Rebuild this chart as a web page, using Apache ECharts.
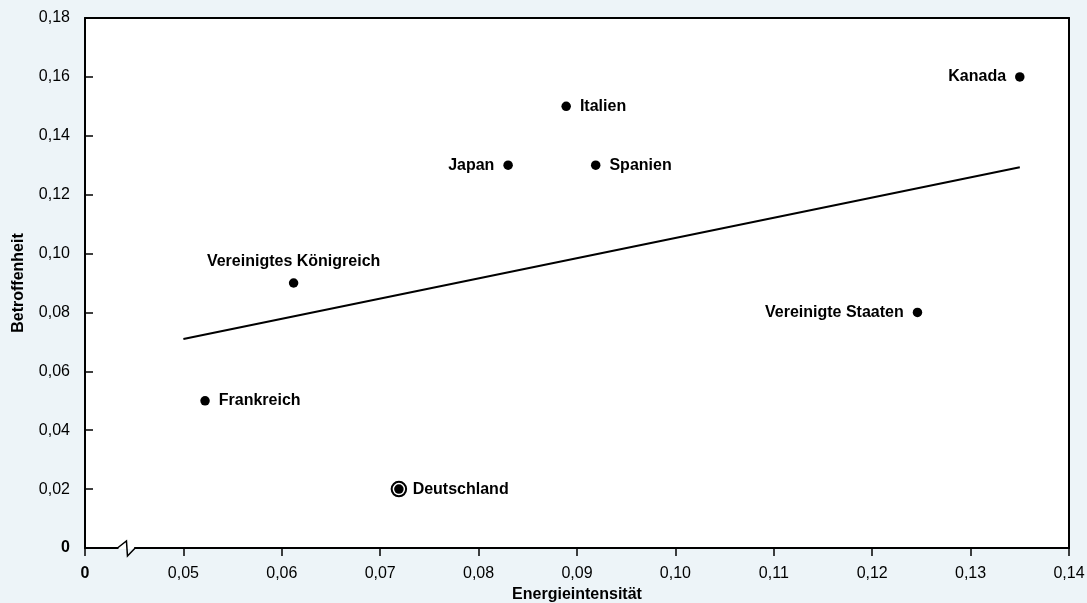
<!DOCTYPE html>
<html>
<head>
<meta charset="utf-8">
<script src="https://cdn.jsdelivr.net/npm/echarts@6/dist/echarts.min.js"></script>
<style>
html,body{margin:0;padding:0;background:#edf4f8;}
#c{width:1087px;height:603px;}
</style>
</head>
<body>
<div id="c"></div>
<script>
// ---- data ----
var countries = ['Kanada','Italien','Japan','Spanien','Vereinigtes Königreich','Vereinigte Staaten','Frankreich','Deutschland'];
var energyIntensity = [0.135, 0.0889, 0.0830, 0.0919, 0.0612, 0.1246, 0.0522, 0.0719];
var affectedness = [0.16, 0.15, 0.13, 0.13, 0.09, 0.08, 0.05, 0.02];
var labelSides = ['left','right','left','right','top','left','right','right'];
var highlighted = ['Deutschland'];
var trendX = [0.05, 0.135];
var trendY = [0.071, 0.1293];
var xTicks = [0, 0.05, 0.06, 0.07, 0.08, 0.09, 0.10, 0.11, 0.12, 0.13, 0.14];
var xBreak = [0.0034, 0.045];
var xName = 'Energieintensität';
var yName = 'Betroffenheit';

function fmt(v){
  if (Math.abs(v) < 1e-9) return '{b|0}';
  var r = Math.round(v*100)/100;
  if (Math.abs(r - v) > 1e-7) return '';
  return r.toFixed(2).replace('.', ',');
}

var FONT = '"Liberation Sans", Arial, sans-serif';
var chart = echarts.init(document.getElementById('c'), null, {renderer:'canvas'});

var points = countries.map(function(n,i){
  return {name:n, value:[energyIntensity[i], affectedness[i]],
    label:{position:labelSides[i]}};
});
var hiPoints = points.filter(function(p){ return highlighted.indexOf(p.name) >= 0; })
  .map(function(p){ return {name:p.name, value:p.value}; });

var option = {
  backgroundColor:'#edf4f8',
  animation:false,
  grid:{left:85, right:18, top:18, bottom:55, show:true, backgroundColor:'#ffffff', borderWidth:0,
    containLabel:false, outerBoundsMode:'none'},
  xAxis:[{
    type:'value', min:0, max:0.14,
    breaks:[{start:xBreak[0], end:xBreak[1], gap:0.0016}],
    breakArea:{show:false},
    name:xName, nameLocation:'middle', nameGap:38,
    nameTextStyle:{fontFamily:FONT, fontSize:16, fontWeight:'bold', color:'#000'},
    axisLine:{show:true, onZero:false, lineStyle:{color:'#000', width:2}},
    axisTick:{show:true, inside:false, length:8, customValues:xTicks, lineStyle:{color:'#000', width:1.5}},
    axisLabel:{margin:18, fontFamily:FONT, fontSize:16, color:'#000', formatter:fmt, customValues:xTicks,
      hideOverlap:false,
      rich:{b:{fontFamily:FONT, fontSize:16, fontWeight:'bold', color:'#000'}}},
    splitLine:{show:false}
  },{
    type:'value', position:'top', min:0, max:0.14,
    axisLine:{show:true, onZero:false, lineStyle:{color:'#000', width:2}},
    axisTick:{show:false}, axisLabel:{show:false}, splitLine:{show:false}
  }],
  yAxis:[{
    type:'value', min:0, max:0.18, interval:0.02,
    name:yName, nameLocation:'middle', nameGap:58, nameRotate:90,
    nameTextStyle:{fontFamily:FONT, fontSize:16, fontWeight:'bold', color:'#000'},
    axisLine:{show:true, onZero:false, lineStyle:{color:'#000', width:2}},
    axisTick:{show:true, inside:true, length:8, lineStyle:{color:'#000', width:1.5}},
    axisLabel:{margin:15, fontFamily:FONT, fontSize:16, color:'#000', formatter:fmt,
      rich:{b:{fontFamily:FONT, fontSize:16, fontWeight:'bold', color:'#000'}}},
    splitLine:{show:false}
  },{
    type:'value', position:'right', min:0, max:0.18,
    axisLine:{show:true, onZero:false, lineStyle:{color:'#000', width:2}},
    axisTick:{show:false}, axisLabel:{show:false}, splitLine:{show:false}
  }],
  series:[{
    type:'line', data:trendX.map(function(x,i){return [x, trendY[i]];}),
    symbol:'none', lineStyle:{color:'#000', width:2}, z:2, silent:true
  },{
    type:'scatter', data:hiPoints, symbol:'emptyCircle', symbolSize:14.5,
    itemStyle:{color:'#000', borderColor:'#000', borderWidth:1.3, opacity:1}, z:3, silent:true
  },{
    type:'scatter', data:points, symbol:'circle', symbolSize:9.5,
    itemStyle:{color:'#000', opacity:1}, z:4,
    label:{show:true, formatter:'{b}', distance:9, fontFamily:FONT, fontSize:16, fontWeight:'bold', color:'#000'}
  }]
};
chart.setOption(option);

// axis break symbol
var y0 = chart.convertToPixel({yAxisIndex:0}, 0);
var x1 = chart.convertToPixel({xAxisIndex:0}, xBreak[0]);
var x2 = chart.convertToPixel({xAxisIndex:0}, xBreak[1]);
chart.setOption({graphic:[
  {type:'rect', shape:{x:x1, y:y0-2, width:x2-x1, height:4}, style:{fill:'#ffffff'}, z:100},
  {type:'rect', shape:{x:x1, y:y0+1, width:x2-x1, height:3}, style:{fill:'#edf4f8'}, z:100},
  {type:'polyline', shape:{points:[[x1-1,y0],[x1+8,y0-7],[x1+9,y0+8],[x2+1,y0]]},
   style:{stroke:'#000', lineWidth:1.5, fill:null}, z:101}
]});
</script>
</body>
</html>
